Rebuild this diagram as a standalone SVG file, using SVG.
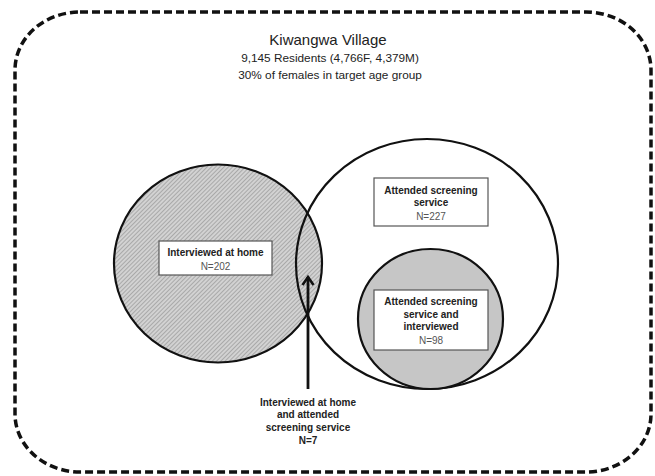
<svg xmlns="http://www.w3.org/2000/svg" width="655" height="476" viewBox="0 0 655 476">
<style>
text{font-family:"Liberation Sans",Arial,sans-serif;text-anchor:middle;}
.title{font-size:15px;fill:#222;}
.sub{font-size:11.8px;fill:#222;}
.b{font-size:10px;font-weight:bold;fill:#222;}
.n{font-size:10px;fill:#555;}
.box{fill:#fff;stroke:#555;stroke-width:1.2;}
.ring{fill:none;stroke:#111;stroke-width:2.2;}
</style>
<defs>
<pattern id="hatch" patternUnits="userSpaceOnUse" width="3" height="3" patternTransform="rotate(45)">
<rect width="3" height="3" fill="#d2d2d2"/>
<line x1="0" y1="0" x2="0" y2="3" stroke="#939393" stroke-width="1.3"/>
</pattern>
<marker id="head" markerWidth="14" markerHeight="14" refX="11" refY="7" orient="auto" markerUnits="userSpaceOnUse" viewBox="0 0 14 14">
<polyline points="3,1.5 11,7 3,12.5" fill="none" stroke="#111" stroke-width="2.6" stroke-linejoin="miter"/>
</marker>
</defs>
<rect width="655" height="476" fill="#fff"/>
<g id="village">
<rect x="15" y="12" width="636" height="460" rx="65" ry="58" fill="none" stroke="#111" stroke-width="3.5" stroke-dasharray="8 4"/>
<text class="title" x="328" y="45">Kiwangwa Village</text>
<text class="sub" x="330" y="62">9,145 Residents (4,766F, 4,379M)</text>
<text class="sub" x="330" y="79">30% of females in target age group</text>
</g>
<g id="attended">
<ellipse cx="427" cy="264" rx="131" ry="125" fill="#fff"/>
</g>
<g id="interviewed">
<ellipse cx="218" cy="263.5" rx="104" ry="99" fill="url(#hatch)"/>
<ellipse class="ring" cx="218" cy="263.5" rx="104" ry="99"/>
<rect class="box" x="159" y="241" width="113" height="34"/>
<text class="b" x="215.5" y="255.5">Interviewed at home</text>
<text class="n" x="215.5" y="269.5">N=202</text>
</g>
<g id="attended-outline">
<ellipse class="ring" cx="427" cy="264" rx="131" ry="125"/>
<rect class="box" x="374" y="178" width="114" height="48"/>
<text class="b" x="431" y="193.5">Attended screening</text>
<text class="b" x="431" y="206">service</text>
<text class="n" x="431" y="219.5">N=227</text>
</g>
<g id="attended-interviewed">
<ellipse cx="430.5" cy="319" rx="72.5" ry="70" fill="#c6c6c6" stroke="#111" stroke-width="2.2"/>
<rect class="box" x="374" y="290" width="114" height="60"/>
<text class="b" x="431" y="304.5">Attended screening</text>
<text class="b" x="431" y="317.5">service and</text>
<text class="b" x="431" y="330">interviewed</text>
<text class="n" x="431" y="344">N=98</text>
</g>
<g id="overlap-label">
<text class="b" x="308" y="405.5">Interviewed at home</text>
<text class="b" x="308" y="417.5">and attended</text>
<text class="b" x="308" y="430.5">screening service</text>
<text class="b" x="308" y="443.5">N=7</text>
</g>
<g id="connectors">
<line x1="308" y1="389" x2="308" y2="277" stroke="#111" stroke-width="2.8" marker-end="url(#head)"/>
</g>
</svg>
